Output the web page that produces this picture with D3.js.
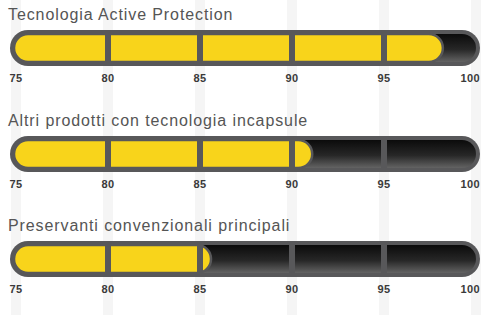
<!DOCTYPE html>
<html>
  <head>
    <style>
      body,
      html {
        margin: 0;
        padding: 0;
        background: #fff;
      }
    </style>
  </head>
  <body>
    <svg id="svg" width="481" height="315"></svg>
    <script src="https://cdn.jsdelivr.net/npm/d3@7"></script>
    <script>
      const categories = [
        'Tecnologia Active Protection',
        'Altri prodotti con tecnologia incapsule',
        'Preservanti convenzionali principali'
      ];
      const values = [98.2, 91.1, 85.6];
      const ticks = [75, 80, 85, 90, 95, 100];
      const dividers = [80, 85, 90, 95];

      const width = 481;
      const height = 315;
      const outline = '#58585a';
      const yellow = '#f8d41b';

      const xScale = d3.scaleLinear().domain([75, 100]).range([16, 476]);

      // bar top positions for each row
      const rowTop = [30, 136, 241];
      const barH = 36;
      const pad = 4;

      const svg = d3.select('#svg');

      const defs = svg.append('defs');
      const grad = defs
        .append('linearGradient')
        .attr('id', 'dark')
        .attr('x1', 0)
        .attr('y1', 0)
        .attr('x2', 0)
        .attr('y2', 1);
      grad.append('stop').attr('offset', '0%').attr('stop-color', '#0b0b0b');
      grad.append('stop').attr('offset', '55%').attr('stop-color', '#272727');
      grad.append('stop').attr('offset', '100%').attr('stop-color', '#636363');

      // faint vertical bands behind
      svg
        .append('g')
        .selectAll('rect')
        .data(ticks)
        .enter()
        .append('rect')
        .attr('x', (d) => xScale(d) - 5)
        .attr('y', 0)
        .attr('width', 10)
        .attr('height', height)
        .attr('fill', '#f5f5f5');

      const rows = svg
        .append('g')
        .selectAll('g')
        .data(categories)
        .enter()
        .append('g')
        .attr('transform', (d, i) => `translate(0,${rowTop[i]})`);

      rows
        .append('text')
        .attr('x', 8)
        .attr('y', -10)
        .attr('font-family', 'Liberation Sans, Arial, sans-serif')
        .attr('font-size', 16)
        .attr('letter-spacing', 0.9)
        .attr('fill', '#555')
        .text((d) => d);

      const x0 = xScale(75) - 6;
      const x1 = xScale(100) + 4;

      // outer pill
      rows
        .append('rect')
        .attr('x', x0)
        .attr('y', 0)
        .attr('width', x1 - x0)
        .attr('height', barH)
        .attr('rx', barH / 2)
        .attr('fill', outline);

      const innerH = barH - pad * 2;
      const ix0 = x0 + pad;
      const ix1 = x1 - pad;

      // dark inner
      rows
        .append('rect')
        .attr('x', ix0)
        .attr('y', pad)
        .attr('width', ix1 - ix0)
        .attr('height', innerH)
        .attr('rx', innerH / 2)
        .attr('fill', 'url(#dark)');

      // yellow fill
      rows
        .append('rect')
        .attr('x', ix0)
        .attr('y', pad)
        .attr('width', (d, i) => xScale(values[i]) - ix0)
        .attr('height', innerH)
        .attr('rx', innerH / 2)
        .attr('fill', yellow)
        .attr('stroke', outline)
        .attr('stroke-width', 2.5);

      // dividers
      rows
        .selectAll('.div')
        .data(dividers)
        .enter()
        .append('rect')
        .attr('class', 'div')
        .attr('x', (d) => xScale(d) - 3)
        .attr('y', pad - 1)
        .attr('width', 6)
        .attr('height', innerH + 2)
        .attr('fill', outline);

      // tick labels (last one kept inside the window)
      rows
        .selectAll('.tick')
        .data(ticks)
        .enter()
        .append('text')
        .attr('class', 'tick')
        .attr('x', (d, i) => (i === ticks.length - 1 ? width - 1 : xScale(d)))
        .attr('y', barH + 16)
        .attr('text-anchor', (d, i) => (i === ticks.length - 1 ? 'end' : 'middle'))
        .attr('font-family', 'Liberation Sans, Arial, sans-serif')
        .attr('font-weight', 'bold')
        .attr('font-size', 11)
        .attr('letter-spacing', 0.4)
        .attr('fill', '#3a3a3a')
        .text((d) => d);
    </script>
  </body>
</html>
